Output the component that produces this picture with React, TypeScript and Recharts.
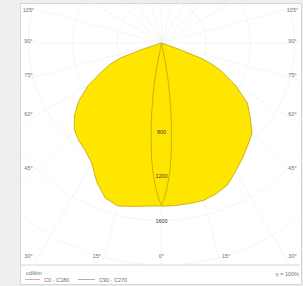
import { Customized, ReferenceDot, Scatter, ScatterChart, XAxis, YAxis } from 'recharts';

// Luminous intensity (cd/klm) per gamma angle, 0° = straight down.
const C0_ANGLES = [0, 5, 10, 15, 20, 25, 30, 35, 40, 45, 50, 55, 60, 65, 67.5, 69, 70, 71];
const C0_VALUES = [1470, 1470, 1468, 1468, 1445, 1410, 1335, 1270, 1207, 1153, 1045, 945, 775, 595, 480, 378, 180, 0];
const C180_ANGLES = [0, 5, 10, 15, 20, 25, 30, 35, 40, 45, 50, 55, 60, 65, 67.5, 70, 71.5, 73];
const C180_VALUES = [1468, 1475, 1495, 1520, 1485, 1380, 1255, 1190, 1155, 1110, 1025, 910, 760, 580, 500, 394, 200, 0];
const C90_ANGLES = [0, 1, 2, 3, 4, 5, 6, 7, 8, 9, 10, 11, 12];
const C90_VALUES = [1460, 1400, 1320, 1225, 1130, 1000, 855, 730, 600, 470, 350, 200, 0];
const C270_ANGLES = [0, 1, 2, 3, 4, 5, 6, 7, 8, 9, 10, 11, 12];
const C270_VALUES = [1460, 1405, 1330, 1240, 1150, 1030, 890, 760, 630, 500, 380, 220, 0];

const GRID_RADII = [400, 800, 1200, 1600, 2000, 2400];
const RING_LABELS = [800, 1200, 1600];
const SIDE_ANGLES = [105, 90, 75, 60, 45];
const BOTTOM_ANGLES = [-30, -15, 0, 15, 30];

const W = 303;
const H = 286;
const PLOT = { left: 20, top: 3, right: 300, bottom: 265 };
const ORIGIN = { x: 161.5, y: 43 };
const CD_PER_PX = 400 / 44.4;

const X_DOMAIN = [-(ORIGIN.x - PLOT.left) * CD_PER_PX, (PLOT.right - ORIGIN.x) * CD_PER_PX];
const Y_DOMAIN = [-(PLOT.bottom - ORIGIN.y) * CD_PER_PX, (ORIGIN.y - PLOT.top) * CD_PER_PX];

const YELLOW = '#ffe600';
const OUTLINE = '#c2a300';
const GRID = '#f0f0f0';
const TEXT = '#707070';
const FONT = '"Liberation Sans", Arial, sans-serif';

const rad = (deg: number) => (deg * Math.PI) / 180;

function toXY(gamma: number, cd: number, side: number) {
  return { x: side * cd * Math.sin(rad(gamma)), y: -cd * Math.cos(rad(gamma)) };
}

// closed outline of one C-plane pair: right half then left half
function plane(rA: number[], rV: number[], lA: number[], lV: number[]) {
  const right = rA.map((g, i) => toXY(g, rV[i], 1)).reverse();
  const left = lA.map((g, i) => toXY(g, lV[i], -1));
  const pts = [...right, ...left];
  return [...pts, pts[0]];
}

const mainPlane = plane(C0_ANGLES, C0_VALUES, C180_ANGLES, C180_VALUES);
const narrowPlane = plane(C90_ANGLES, C90_VALUES, C270_ANGLES, C270_VALUES);

const rings = GRID_RADII.map((r) => {
  const pts = [];
  for (let a = 0; a <= 360; a += 4) pts.push({ x: r * Math.sin(rad(a)), y: r * Math.cos(rad(a)) });
  return pts;
});
const spokes = Array.from({ length: 24 }, (_, i) => i * 15).map((a) => [
  { x: 0, y: 0 },
  toXY(a, 3000, 1),
]);

// pixel offset from the origin (down positive) -> data coords
const px = (dx: number, dy: number) => ({ x: dx * CD_PER_PX, y: -dy * CD_PER_PX });

const sideLabels = SIDE_ANGLES.flatMap((a) => {
  const yPx = Math.max(-2 + 127 / Math.tan(rad(a)), 10 - ORIGIN.y);
  return [
    { key: `l${a}`, text: `${a}°`, ...px(-133, yPx) },
    { key: `r${a}`, text: `${a}°`, ...px(131, yPx) },
  ];
});
const bottomLabels = BOTTOM_ANGLES.map((a) => {
  const dx = Math.min(Math.max(241 * Math.tan(rad(a)), -133), 131);
  return { key: `b${a}`, text: `${Math.abs(a)}°`, ...px(dx, 213) };
});

const NoDot = () => <g />;

function Captions() {
  return (
    <g fontFamily={FONT} fontSize={5.5} fill={TEXT}>
      <line x1={PLOT.left} x2={PLOT.right} y1={PLOT.bottom} y2={PLOT.bottom} stroke="#d4d4d4" />
      <text x={26} y={275}>cd/klm</text>
      <line x1={25} x2={40} y1={279.5} y2={279.5} stroke="#e58a8a" strokeWidth={0.8} />
      <text x={44} y={281.5}>C0 - C180</text>
      <line x1={78} x2={95} y1={279.5} y2={279.5} stroke="#9a9a9a" strokeWidth={0.8} />
      <text x={99} y={281.5}>C90 - C270</text>
      <text x={299} y={275.5} textAnchor="end">η = 100%</text>
    </g>
  );
}

export default function App() {
  return (
    <div style={{ position: 'fixed', left: 0, top: 0, width: W, height: H, background: '#efefef' }}>
      <div
        style={{
          position: 'absolute',
          left: 20,
          top: 3,
          width: 282,
          height: 282,
          boxSizing: 'border-box',
          background: '#fff',
          border: '1px solid #d6d6d6',
        }}
      />
      <div style={{ position: 'absolute', left: 0, top: 0 }}>
        <ScatterChart
          width={W}
          height={H}
          margin={{ top: PLOT.top, left: PLOT.left, right: W - PLOT.right, bottom: H - PLOT.bottom }}
        >
          <XAxis type="number" dataKey="x" domain={X_DOMAIN} allowDataOverflow hide />
          <YAxis type="number" dataKey="y" domain={Y_DOMAIN} allowDataOverflow hide />
          {rings.map((pts, i) => (
            <Scatter
              key={`ring${i}`}
              data={pts}
              shape={NoDot}
              line={{ stroke: GRID, strokeWidth: 0.7 }}
              isAnimationActive={false}
            />
          ))}
          {spokes.map((pts, i) => (
            <Scatter
              key={`spoke${i}`}
              data={pts}
              shape={NoDot}
              line={{ stroke: GRID, strokeWidth: 0.7 }}
              isAnimationActive={false}
            />
          ))}
          <Scatter
            data={mainPlane}
            shape={NoDot}
            line={{ fill: YELLOW, stroke: OUTLINE, strokeWidth: 0.8 }}
            isAnimationActive={false}
          />
          <Scatter
            data={narrowPlane}
            shape={NoDot}
            line={{ fill: 'none', stroke: '#b39c00', strokeWidth: 0.7 }}
            isAnimationActive={false}
          />
          {RING_LABELS.map((v) => (
            <ReferenceDot
              key={`ring-label${v}`}
              x={0}
              y={-v}
              r={0}
              fill="none"
              stroke="none"
              label={{ value: `${v}`, position: 'center', fontSize: 5.5, fill: '#3c3c3c', fontFamily: FONT }}
            />
          ))}
          {[...sideLabels, ...bottomLabels].map((l) => (
            <ReferenceDot
              key={l.key}
              x={l.x}
              y={l.y}
              r={0}
              fill="none"
              stroke="none"
              label={{ value: l.text, position: 'center', fontSize: 5.5, fill: TEXT, fontFamily: FONT }}
            />
          ))}
          <Customized component={<Captions />} />
        </ScatterChart>
      </div>
    </div>
  );
}
